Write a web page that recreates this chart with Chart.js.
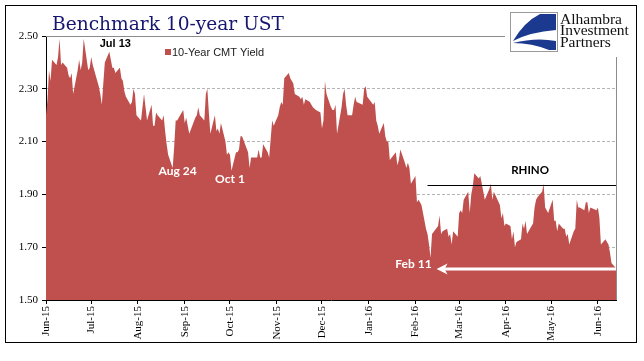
<!DOCTYPE html>
<html>
<head>
<meta charset="utf-8">
<script src="https://cdn.jsdelivr.net/npm/chart.js@4.4.0/dist/chart.umd.min.js"></script>
<style>
  html, body { margin: 0; padding: 0; background: #fff; }
  #wrap { width: 644px; height: 361px; position: relative; }
</style>
</head>
<body>
<div id="wrap"><canvas id="ustChart"></canvas></div>
<script>
/* 10-Year CMT yield, daily (business days) */
const tradeDates = [
  "2015-06-01","2015-06-02","2015-06-03","2015-06-04","2015-06-05","2015-06-08","2015-06-09","2015-06-10","2015-06-11","2015-06-12","2015-06-15","2015-06-16","2015-06-17","2015-06-18","2015-06-19","2015-06-22","2015-06-23","2015-06-24","2015-06-25","2015-06-26","2015-06-29","2015-06-30",
  "2015-07-01","2015-07-02","2015-07-06","2015-07-07","2015-07-08","2015-07-09","2015-07-10","2015-07-13","2015-07-14","2015-07-15","2015-07-16","2015-07-17","2015-07-20","2015-07-21","2015-07-22","2015-07-23","2015-07-24","2015-07-27","2015-07-28","2015-07-29","2015-07-30","2015-07-31",
  "2015-08-03","2015-08-04","2015-08-05","2015-08-06","2015-08-07","2015-08-10","2015-08-11","2015-08-12","2015-08-13","2015-08-14","2015-08-17","2015-08-18","2015-08-19","2015-08-20","2015-08-21","2015-08-24","2015-08-25","2015-08-26","2015-08-27","2015-08-28","2015-08-31",
  "2015-09-01","2015-09-02","2015-09-03","2015-09-04","2015-09-08","2015-09-09","2015-09-10","2015-09-11","2015-09-14","2015-09-15","2015-09-16","2015-09-17","2015-09-18","2015-09-21","2015-09-22","2015-09-23","2015-09-24","2015-09-25","2015-09-28","2015-09-29","2015-09-30",
  "2015-10-01","2015-10-02","2015-10-05","2015-10-06","2015-10-07","2015-10-08","2015-10-09","2015-10-13","2015-10-14","2015-10-15","2015-10-16","2015-10-19","2015-10-20","2015-10-21","2015-10-22","2015-10-23","2015-10-26","2015-10-27","2015-10-28","2015-10-29","2015-10-30",
  "2015-11-02","2015-11-03","2015-11-04","2015-11-05","2015-11-06","2015-11-09","2015-11-10","2015-11-12","2015-11-13","2015-11-16","2015-11-17","2015-11-18","2015-11-19","2015-11-20","2015-11-23","2015-11-24","2015-11-25","2015-11-27","2015-11-30",
  "2015-12-01","2015-12-02","2015-12-03","2015-12-04","2015-12-07","2015-12-08","2015-12-09","2015-12-10","2015-12-11","2015-12-14","2015-12-15","2015-12-16","2015-12-17","2015-12-18","2015-12-21","2015-12-22","2015-12-23","2015-12-24","2015-12-28","2015-12-29","2015-12-30","2015-12-31",
  "2016-01-04","2016-01-05","2016-01-06","2016-01-07","2016-01-08","2016-01-11","2016-01-12","2016-01-13","2016-01-14","2016-01-15","2016-01-19","2016-01-20","2016-01-21","2016-01-22","2016-01-25","2016-01-26","2016-01-27","2016-01-28","2016-01-29",
  "2016-02-01","2016-02-02","2016-02-03","2016-02-04","2016-02-05","2016-02-08","2016-02-09","2016-02-10","2016-02-11","2016-02-12","2016-02-16","2016-02-17","2016-02-18","2016-02-19","2016-02-22","2016-02-23","2016-02-24","2016-02-25","2016-02-26","2016-02-29",
  "2016-03-01","2016-03-02","2016-03-03","2016-03-04","2016-03-07","2016-03-08","2016-03-09","2016-03-10","2016-03-11","2016-03-14","2016-03-15","2016-03-16","2016-03-17","2016-03-18","2016-03-21","2016-03-22","2016-03-23","2016-03-24","2016-03-28","2016-03-29","2016-03-30","2016-03-31",
  "2016-04-01","2016-04-04","2016-04-05","2016-04-06","2016-04-07","2016-04-08","2016-04-11","2016-04-12","2016-04-13","2016-04-14","2016-04-15","2016-04-18","2016-04-19","2016-04-20","2016-04-21","2016-04-22","2016-04-25","2016-04-26","2016-04-27","2016-04-28","2016-04-29",
  "2016-05-02","2016-05-03","2016-05-04","2016-05-05","2016-05-06","2016-05-09","2016-05-10","2016-05-11","2016-05-12","2016-05-13","2016-05-16","2016-05-17","2016-05-18","2016-05-19","2016-05-20","2016-05-23","2016-05-24","2016-05-25","2016-05-26","2016-05-27","2016-05-31",
  "2016-06-01","2016-06-02","2016-06-03","2016-06-06","2016-06-07","2016-06-08","2016-06-09","2016-06-10","2016-06-13"
];
const cmtYield = [
  2.20,2.26,2.37,2.33,2.41,2.39,2.42,2.49,2.39,2.40,2.38,2.35,2.34,2.36,2.28,2.37,2.41,2.37,2.40,2.49,2.37,2.38,
  2.42,2.39,2.31,2.28,2.24,2.32,2.40,2.44,2.41,2.38,2.38,2.36,2.38,2.34,2.33,2.29,2.27,2.24,2.25,2.30,2.28,2.20,
  2.18,2.23,2.28,2.23,2.18,2.24,2.16,2.16,2.21,2.20,2.18,2.20,2.14,2.09,2.05,2.00,2.08,2.18,2.18,2.19,2.22,
  2.17,2.19,2.16,2.13,2.19,2.20,2.23,2.20,2.18,2.28,2.30,2.21,2.13,2.20,2.14,2.15,2.13,2.17,2.10,2.05,2.06,
  2.05,1.99,2.06,2.06,2.07,2.12,2.12,2.06,2.00,2.04,2.04,2.04,2.07,2.04,2.04,2.09,2.06,2.04,2.11,2.18,2.16,
  2.20,2.23,2.25,2.24,2.34,2.36,2.34,2.32,2.28,2.27,2.26,2.27,2.24,2.26,2.25,2.24,2.23,2.22,2.21,
  2.15,2.18,2.33,2.28,2.23,2.22,2.22,2.24,2.13,2.23,2.28,2.30,2.24,2.20,2.20,2.24,2.27,2.25,2.24,2.30,2.31,2.27,
  2.24,2.25,2.18,2.16,2.13,2.17,2.12,2.10,2.10,2.03,2.06,2.01,2.03,2.07,2.02,2.00,2.02,2.00,1.94,
  1.97,1.87,1.88,1.87,1.86,1.77,1.75,1.71,1.66,1.75,1.78,1.82,1.75,1.76,1.77,1.74,1.75,1.71,1.76,1.74,
  1.83,1.84,1.83,1.88,1.91,1.83,1.90,1.93,1.98,1.96,1.97,1.94,1.91,1.88,1.92,1.94,1.88,1.91,1.86,1.81,1.83,1.78,
  1.79,1.78,1.73,1.76,1.70,1.72,1.73,1.79,1.77,1.80,1.75,1.78,1.79,1.85,1.88,1.89,1.91,1.94,1.85,1.84,1.83,
  1.88,1.80,1.80,1.76,1.79,1.77,1.77,1.74,1.75,1.71,1.76,1.77,1.88,1.85,1.85,1.84,1.87,1.87,1.83,1.85,1.84,
  1.85,1.81,1.71,1.73,1.72,1.71,1.68,1.64,1.62
];

const monthStarts = ["2015-06-01","2015-07-01","2015-08-01","2015-09-01","2015-10-01","2015-11-01","2015-12-01",
                     "2016-01-01","2016-02-01","2016-03-01","2016-04-01","2016-05-01","2016-06-01"];
const monthLabels = ["Jun-15","Jul-15","Aug-15","Sep-15","Oct-15","Nov-15","Dec-15",
                     "Jan-16","Feb-16","Mar-16","Apr-16","May-16","Jun-16"];
const yTicks = [1.5, 1.7, 1.9, 2.1, 2.3, 2.5];
const axisEnd = "2016-06-13";

// annotations, anchored in data space
const notes = [
  { text: "Jul 13", date: "2015-07-13", value: 2.47,  dx: 6,   color: "#000", font: "bold 11px 'Liberation Sans', Arial, sans-serif" },
  { text: "Aug 24", date: "2015-08-24", value: 1.99,  dx: 5,   color: "#fff", font: "bold 12px Lato, sans-serif" },
  { text: "Oct 1",  date: "2015-10-01", value: 1.958, dx: 0,   color: "#fff", font: "bold 12px Lato, sans-serif" },
  { text: "Feb 11", date: "2016-02-11", value: 1.636, dx: -17, color: "#fff", font: "bold 12px Lato, sans-serif" },
  { text: "RHINO",  date: "2016-04-17", value: 1.992, dx: 0,   color: "#000", font: "bold 11.5px Lato, sans-serif" }
];
const rhinoLevel = 1.935, rhinoFrom = "2016-02-09";
const arrowLevel = 1.617, arrowFrom = "2016-02-15";

const DAY0 = Date.UTC(2015, 5, 1);
function dayOf(s) {
  const [y, m, d] = s.split("-").map(Number);
  return (Date.UTC(y, m - 1, d) - DAY0) / 864e5;
}

const points = tradeDates.map((d, i) => ({ x: dayOf(d), y: cmtYield[i] }));

const decor = {
  id: "decor",
  beforeDraw(chart) {
    const ctx = chart.ctx;
    ctx.save();
    ctx.fillStyle = "#fff";
    ctx.fillRect(0, 0, chart.width, chart.height);
    ctx.restore();
  },
  beforeDatasetsDraw(chart) {
    const { ctx, chartArea: a } = chart;
    ctx.save();
    ctx.strokeStyle = "#8c8c8c";
    ctx.lineWidth = 1;
    ctx.beginPath();
    ctx.moveTo(a.left, a.top + 0.5);
    ctx.lineTo(510, a.top + 0.5);
    ctx.moveTo(a.right + 0.5, 57);
    ctx.lineTo(a.right + 0.5, a.bottom);
    ctx.stroke();
    ctx.restore();
  },
  afterDraw(chart) {
    const { ctx, chartArea: a, scales: { x, y } } = chart;
    ctx.save();

    // title
    const title = "Benchmark 10-year UST";
    ctx.font = "20px 'DejaVu Serif', serif";
    const size = 20 * 232 / ctx.measureText(title).width;
    ctx.font = size.toFixed(2) + "px 'DejaVu Serif', serif";
    ctx.fillStyle = "#16166e";
    ctx.textBaseline = "alphabetic";
    ctx.textAlign = "left";
    ctx.fillText(title, 52, 29.5);

    // legend
    ctx.fillStyle = "#C0504D";
    ctx.fillRect(165, 49, 6, 6);
    ctx.fillStyle = "#222";
    ctx.font = "11px 'Liberation Sans', Arial, sans-serif";
    ctx.fillText("10-Year CMT Yield", 172, 56);

    // rhino line
    const ry = Math.round(y.getPixelForValue(rhinoLevel)) + 0.5;
    ctx.strokeStyle = "#000";
    ctx.lineWidth = 1;
    ctx.beginPath();
    ctx.moveTo(x.getPixelForValue(dayOf(rhinoFrom)), ry);
    ctx.lineTo(a.right, ry);
    ctx.stroke();

    // white arrow
    const ay = y.getPixelForValue(arrowLevel);
    const ax = x.getPixelForValue(dayOf(arrowFrom));
    ctx.strokeStyle = "#fff";
    ctx.lineWidth = 3;
    ctx.beginPath();
    ctx.moveTo(ax + 7, ay);
    ctx.lineTo(a.right, ay);
    ctx.stroke();
    ctx.fillStyle = "#fff";
    ctx.beginPath();
    ctx.moveTo(ax, ay);
    ctx.lineTo(ax + 11, ay - 5.5);
    ctx.lineTo(ax + 8, ay);
    ctx.lineTo(ax + 11, ay + 5.5);
    ctx.closePath();
    ctx.fill();

    // notes
    ctx.textAlign = "center";
    ctx.textBaseline = "middle";
    notes.forEach(n => {
      ctx.font = n.font;
      ctx.fillStyle = n.color;
      ctx.fillText(n.text, x.getPixelForValue(dayOf(n.date)) + n.dx, y.getPixelForValue(n.value));
    });

    // logo
    ctx.fillStyle = "#fff";
    ctx.fillRect(505, 7, 130, 49);
    ctx.strokeStyle = "#9a9a9a";
    ctx.lineWidth = 1;
    ctx.strokeRect(510.5, 12.5, 47, 39);
    ctx.fillStyle = "#1b3a8f";
    ctx.beginPath();
    ctx.moveTo(540, 14);
    ctx.lineTo(556, 14);
    ctx.lineTo(556, 30);
    ctx.quadraticCurveTo(530, 32, 513, 41);
    ctx.quadraticCurveTo(524, 22, 540, 14);
    ctx.closePath();
    ctx.fill();
    ctx.beginPath();
    ctx.moveTo(513, 43);
    ctx.quadraticCurveTo(536, 37, 556, 41);
    ctx.lineTo(556, 50);
    ctx.lineTo(549, 50);
    ctx.quadraticCurveTo(532, 43, 513, 43);
    ctx.closePath();
    ctx.fill();
    ctx.fillStyle = "#111";
    ctx.textAlign = "left";
    ctx.textBaseline = "alphabetic";
    ctx.font = "15.5px 'Liberation Serif', serif";
    ctx.fillText("Alhambra", 560, 23.5);
    ctx.fillText("Investment", 560, 35);
    ctx.fillText("Partners", 560, 46.5);

    // outer frame
    ctx.strokeStyle = "#000";
    ctx.lineWidth = 1;
    ctx.strokeRect(5.5, 5.5, 631, 337);
    ctx.restore();
  }
};

new Chart(document.getElementById("ustChart"), {
  type: "line",
  data: {
    datasets: [{
      label: "10-Year CMT Yield",
      data: points,
      fill: "start",
      backgroundColor: "#C0504D",
      borderColor: "rgba(0,0,0,0)",
      borderWidth: 0,
      pointRadius: 0,
      tension: 0
    }]
  },
  options: {
    responsive: true,
    maintainAspectRatio: false,
    animation: false,
    layout: { padding: { top: 36, right: 28, left: 0, bottom: 0 } },
    plugins: { legend: { display: false }, tooltip: { enabled: false }, title: { display: false } },
    scales: {
      x: {
        type: "linear",
        min: 0,
        max: dayOf(axisEnd),
        afterBuildTicks: s => { s.ticks = monthStarts.map(d => ({ value: dayOf(d) })); },
        afterFit: s => { s.height = 61; },
        ticks: {
          autoSkip: false,
          minRotation: 90,
          maxRotation: 90,
          padding: 2,
          color: "#000",
          font: { family: "'Liberation Serif', serif", size: 11 },
          callback: (v, i) => monthLabels[i]
        },
        grid: { drawOnChartArea: false, tickLength: 4, tickColor: "#000" },
        border: { color: "#000", width: 1 }
      },
      y: {
        min: 1.5,
        max: 2.5,
        afterBuildTicks: s => { s.ticks = yTicks.map(v => ({ value: v })); },
        afterFit: s => { s.width = 46; },
        ticks: {
          padding: 4,
          color: "#000",
          font: { family: "'Liberation Serif', serif", size: 11 },
          callback: v => v.toFixed(2)
        },
        grid: {
          color: c => (c.tick && (c.tick.value === 1.5 || c.tick.value === 2.5)) ? "rgba(0,0,0,0)" : "#b4b4b4",
          tickLength: 4,
          tickColor: "#000",
          tickBorderDash: []
        },
        border: { color: "#000", width: 1, dash: [3, 2] }
      }
    }
  },
  plugins: [decor]
});
</script>
</body>
</html>
